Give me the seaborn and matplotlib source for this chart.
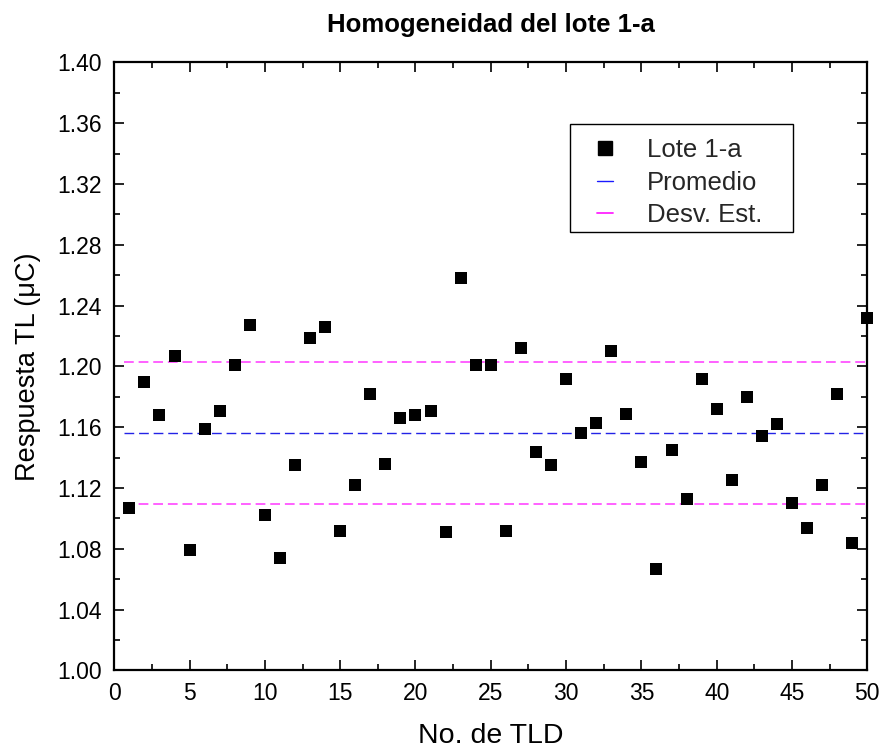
import matplotlib
matplotlib.use("Agg")
import matplotlib.pyplot as plt
from matplotlib.ticker import MultipleLocator, FormatStrFormatter
from matplotlib.lines import Line2D
from matplotlib.patches import Rectangle
import seaborn as sns
import pandas as pd

# TL response of each dosimeter in batch 1-a
tld_no = list(range(1, 51))
respuesta = [
    1.107, 1.190, 1.168, 1.207, 1.079, 1.159, 1.171, 1.201, 1.227, 1.102,
    1.074, 1.135, 1.219, 1.226, 1.092, 1.122, 1.182, 1.136, 1.166, 1.168,
    1.171, 1.091, 1.258, 1.201, 1.201, 1.092, 1.212, 1.144, 1.135, 1.192,
    1.156, 1.163, 1.210, 1.169, 1.137, 1.067, 1.145, 1.113, 1.192, 1.172,
    1.125, 1.180, 1.154, 1.162, 1.110, 1.094, 1.122, 1.182, 1.084, 1.232,
]
promedio = 1.156
desv_est = 0.0468
line_start = 0.65
legend_labels = ["Lote 1-a", "Promedio", "Desv. Est."]

BLUE = "#2323e6"
MAGENTA = "#ff55ff"

sns.set_theme(style="white")
plt.rcParams["font.family"] = ["Liberation Sans", "DejaVu Sans"]

df = pd.DataFrame({"tld": tld_no, "resp": respuesta})

fig = plt.figure(figsize=(8.84, 7.51), dpi=100)
ax = fig.add_axes([0.1293, 0.1072, 0.8518, 0.8098])

# mean and mean ± std reference lines
ax.hlines(promedio, line_start, 50, colors=BLUE, linestyles=(0, (7, 3.5)),
          linewidth=1.0, zorder=2)
for v in (promedio + desv_est, promedio - desv_est):
    ax.hlines(v, line_start, 50, colors=MAGENTA, linestyles=(0, (5.4, 2.7)),
              linewidth=1.3, zorder=2)

sns.scatterplot(data=df, x="tld", y="resp", marker="s", s=70, color="black",
                edgecolor="black", linewidth=0, ax=ax, zorder=3, clip_on=False)

ax.set_xlim(0, 50)
ax.set_ylim(1.00, 1.40)
ax.xaxis.set_major_locator(MultipleLocator(5))
ax.xaxis.set_minor_locator(MultipleLocator(2.5))
ax.yaxis.set_major_locator(MultipleLocator(0.04))
ax.yaxis.set_minor_locator(MultipleLocator(0.02))
ax.yaxis.set_major_formatter(FormatStrFormatter("%.2f"))

ax.tick_params(which="both", direction="in", top=True, right=True, bottom=True, left=True,
               color="black", width=1.2)
ax.tick_params(which="major", length=7.5, labelsize=16.5, labelcolor="black")
ax.tick_params(axis="x", which="major", pad=8.5)
ax.tick_params(axis="y", which="major", pad=9)
ax.tick_params(which="minor", length=4)
for s in ax.spines.values():
    s.set_linewidth(1.6)
    s.set_color("black")

ax.set_xlabel("No. de TLD", fontsize=20.5, color="black")
ax.xaxis.label.set_va("baseline")
ax.xaxis.set_label_coords(0.5, -0.1192)
ax.set_ylabel("Respuesta TL (\u03bcC)", fontsize=19.5, color="black")
ax.yaxis.set_label_coords(-0.0973, 0.5)

ax.text(0.5, 1.0498, "Homogeneidad del lote 1-a", transform=ax.transAxes,
        ha="center", va="baseline", fontsize=18.5, fontweight="bold", color="black")

# legend: frameless entries inside a plain rectangular box
ax.add_patch(Rectangle((0.6052, 0.7209), 0.2961, 0.1776, transform=ax.transAxes,
                       facecolor="white", edgecolor="black", linewidth=1.0,
                       zorder=4, clip_on=False))
handles = [
    Line2D([], [], marker="s", linestyle="none", color="black", markersize=9.5),
    Line2D([], [], color="#1a1aff", linewidth=1.0),
    Line2D([], [], color="#ff22ff", linewidth=1.3),
]
leg = ax.legend(handles, legend_labels, loc="upper left",
                bbox_to_anchor=(0.641, 0.8754), borderaxespad=0, borderpad=0,
                fontsize=18.5, frameon=False, handlelength=0.62,
                handletextpad=1.32, labelspacing=0.33)
leg.set_zorder(5)

fig.savefig("out.png", dpi=100)
